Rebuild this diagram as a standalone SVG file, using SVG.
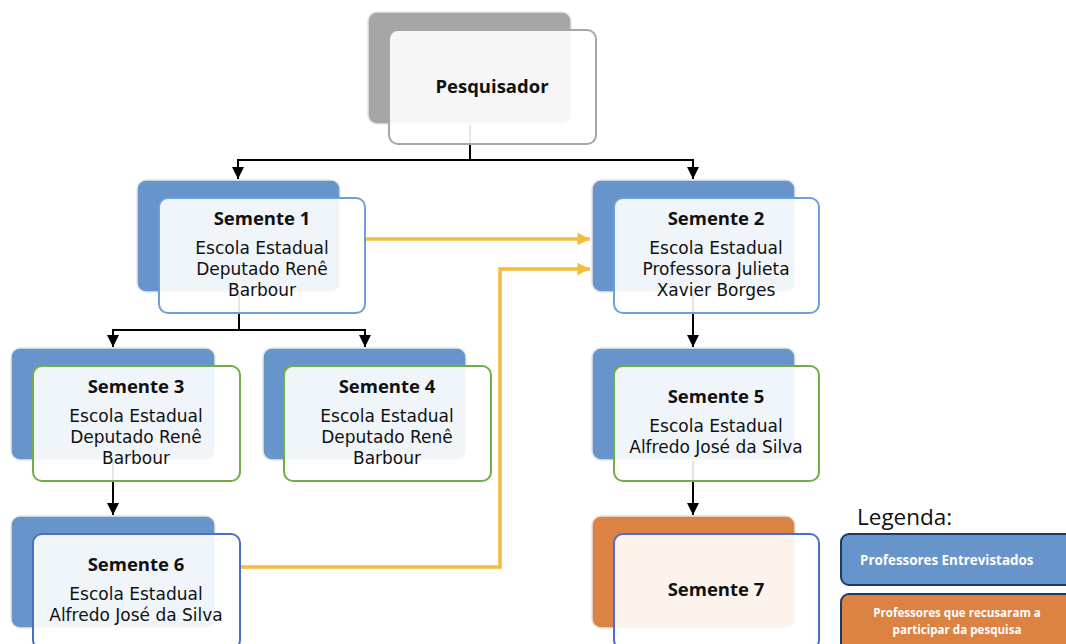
<svg xmlns="http://www.w3.org/2000/svg" width="1066" height="644" viewBox="0 0 1066 644">
<defs>
<marker id="ab" viewBox="0 0 10 10" refX="10" refY="5" markerWidth="6" markerHeight="6" orient="auto" markerUnits="strokeWidth"><path d="M0,0 L10,5 L0,10 z" fill="#000"/></marker>
<marker id="ao" viewBox="0 0 10 10" refX="10" refY="5" markerWidth="3.6" markerHeight="3.6" orient="auto" markerUnits="strokeWidth"><path d="M0,0 L10,5 L0,10 z" fill="#f5bb3c"/></marker>
</defs>
<style>
.back{stroke:#e6e6e6;stroke-width:1.5}
.blue{fill:#6794cb}
.gray{fill:#a6a6a6}
.orange{fill:#dc8242}
.front{fill:#ffffff;fill-opacity:0.9;stroke-width:2}
.sb{stroke:#6f9fd8}
.sg{stroke:#72ad47}
.sd{stroke:#4a6fc4}
.sgr{stroke:#a6a6a6}
.t{text-anchor:middle;fill:#111}
.title{font-family:"Open Sans","DejaVu Sans",sans-serif;font-size:18.5px;font-weight:bold}
.body{font-family:"DejaVu Sans",sans-serif;font-size:17px}
.blk{fill:none;stroke:#000;stroke-width:2}
.org{fill:none;stroke:#f5bb3c;stroke-width:3.5}
.leg{font-family:"Open Sans","DejaVu Sans",sans-serif;fill:#fff;font-weight:bold}
</style>
<g id="connectors">
<path class="blk" d="M470,124 V160 H238 V170"/>
<path class="blk" d="M238,160 V179" marker-end="url(#ab)"/>
<path class="blk" d="M470,160 H693 V179" marker-end="url(#ab)"/>
<path class="blk" d="M239,292 V330 H113 V347" marker-end="url(#ab)"/>
<path class="blk" d="M239,330 H365 V347" marker-end="url(#ab)"/>
<path class="blk" d="M113,460 V515" marker-end="url(#ab)"/>
<path class="blk" d="M693,292 V347" marker-end="url(#ab)"/>
<path class="blk" d="M693,460 V515" marker-end="url(#ab)"/>
<path class="org" d="M365,239 H590" marker-end="url(#ao)"/>
<path class="org" d="M240,567 H500 V269 H590" marker-end="url(#ao)"/>
</g>
<g id="pesquisador">
<rect class="back gray" x="368" y="12" width="203" height="112" rx="9"/>
<rect class="front sgr" x="389" y="30" width="207" height="114" rx="9"/>
<text class="t title" x="492" y="93">Pesquisador</text>
</g>
<g id="semente1">
<rect class="back blue" x="137" y="180" width="203" height="112" rx="9"/>
<rect class="front sb" x="159" y="198" width="206" height="115" rx="9"/>
<text class="t title" x="262" y="225">Semente 1</text>
<text class="t body" x="262" y="254">Escola Estadual</text>
<text class="t body" x="262" y="275">Deputado Renê</text>
<text class="t body" x="262" y="296">Barbour</text>
</g>
<g id="semente2">
<rect class="back blue" x="592" y="180" width="203" height="112" rx="9"/>
<rect class="front sb" x="614" y="198" width="205" height="115" rx="9"/>
<text class="t title" x="716" y="225">Semente 2</text>
<text class="t body" x="716" y="254">Escola Estadual</text>
<text class="t body" x="716" y="275">Professora Julieta</text>
<text class="t body" x="716" y="296">Xavier Borges</text>
</g>
<g id="semente3">
<rect class="back blue" x="11" y="348" width="204" height="112" rx="9"/>
<rect class="front sg" x="33" y="366" width="207" height="115" rx="9"/>
<text class="t title" x="136" y="393">Semente 3</text>
<text class="t body" x="136" y="422">Escola Estadual</text>
<text class="t body" x="136" y="443">Deputado Renê</text>
<text class="t body" x="136" y="464">Barbour</text>
</g>
<g id="semente4">
<rect class="back blue" x="263" y="348" width="203" height="112" rx="9"/>
<rect class="front sg" x="284" y="366" width="207" height="115" rx="9"/>
<text class="t title" x="387" y="393">Semente 4</text>
<text class="t body" x="387" y="422">Escola Estadual</text>
<text class="t body" x="387" y="443">Deputado Renê</text>
<text class="t body" x="387" y="464">Barbour</text>
</g>
<g id="semente5">
<rect class="back blue" x="592" y="348" width="203" height="112" rx="9"/>
<rect class="front sg" x="614" y="366" width="205" height="115" rx="9"/>
<text class="t title" x="716" y="403">Semente 5</text>
<text class="t body" x="716" y="432">Escola Estadual</text>
<text class="t body" x="716" y="453">Alfredo José da Silva</text>
</g>
<g id="semente6">
<rect class="back blue" x="11" y="516" width="204" height="112" rx="9"/>
<rect class="front sd" x="33" y="534" width="207" height="115" rx="9"/>
<text class="t title" x="136" y="571">Semente 6</text>
<text class="t body" x="136" y="600">Escola Estadual</text>
<text class="t body" x="136" y="621">Alfredo José da Silva</text>
</g>
<g id="semente7">
<rect class="back orange" x="592" y="516" width="203" height="112" rx="9"/>
<rect class="front sd" x="614" y="534" width="205" height="115" rx="9"/>
<text class="t title" x="716" y="596">Semente 7</text>
</g>
<g id="legenda">
<text x="857" y="525" font-family="'Open Sans','DejaVu Sans',sans-serif" font-size="22.5" fill="#111">Legenda:</text>
</g>
<g id="legend-entrevistados">
<rect x="841" y="534" width="240" height="51" rx="8" fill="#6794cb" stroke="#1f3864" stroke-width="2"/>
<text class="leg" x="860" y="565" font-size="13.4">Professores Entrevistados</text>
</g>
<g id="legend-recusaram">
<rect x="841" y="594" width="240" height="60" rx="8" fill="#dc8242" stroke="#1f3864" stroke-width="2"/>
<text class="leg" x="957" y="617" font-size="11.6" text-anchor="middle">Professores que recusaram a</text>
<text class="leg" x="957" y="634" font-size="11.6" text-anchor="middle">participar da pesquisa</text>
</g>
</svg>
